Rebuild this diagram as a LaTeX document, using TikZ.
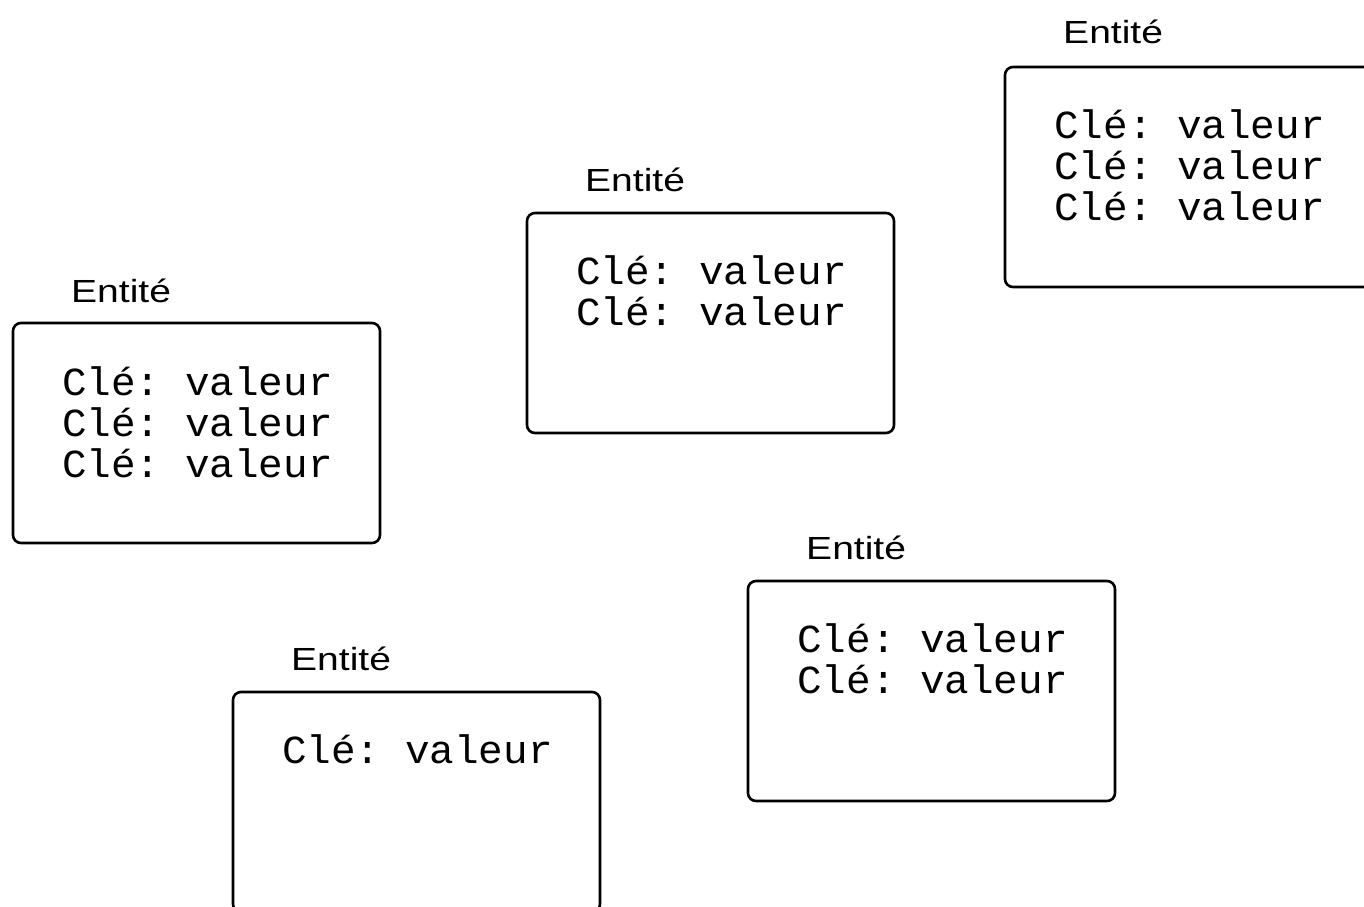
\documentclass[tikz,border=0pt]{standalone}
\usepackage{fontspec}
\usetikzlibrary{calc}
\newfontfamily\monof[FakeStretch=1.03]{Liberation Mono}
\newfontfamily\labelf[FakeStretch=1.22]{Liberation Sans}
\frenchspacing
\tikzset{
  entbox/.style={draw=black, line width=2.6pt, rounded corners=8pt, fill=white,
    minimum width=367pt, minimum height=220pt, inner sep=0pt, outer sep=0pt, anchor=north west},
  lbl/.style={inner sep=0pt, anchor=base west, font=\labelf\fontsize{32}{36}\selectfont, text=black},
  kv/.style={inner sep=0pt, anchor=base west, font=\monof\frenchspacing\fontsize{39.8}{41}\selectfont, text=black}
}
\begin{document}
\begin{tikzpicture}[x=1pt,y=-1pt]
\useasboundingbox (0,0) rectangle (1364,906);
\fill[white] (0,0) rectangle (1364,906);
\clip (0,0) rectangle (1364,906);
% box 1 (top right)
\node[entbox] (b1) at (1005,67) {};
\node[lbl] (l1) at ($(b1.north west)+(58,-24)$) {Entité};
\node[kv] (k1a) at ($(b1.north west)+(49,71)$) {Clé: valeur};
\node[kv] (k1b) at ($(b1.north west)+(49,112)$) {Clé: valeur};
\node[kv] (k1c) at ($(b1.north west)+(49,153)$) {Clé: valeur};
% box 2 (middle)
\node[entbox] (b2) at (527,213) {};
\node[lbl] (l2) at ($(b2.north west)+(58,-22)$) {Entité};
\node[kv] (k2a) at ($(b2.north west)+(49,71)$) {Clé: valeur};
\node[kv] (k2b) at ($(b2.north west)+(49,112)$) {Clé: valeur};
% box 3 (left)
\node[entbox] (b3) at (13,323) {};
\node[lbl] (l3) at ($(b3.north west)+(58,-21)$) {Entité};
\node[kv] (k3a) at ($(b3.north west)+(49,72)$) {Clé: valeur};
\node[kv] (k3b) at ($(b3.north west)+(49,113)$) {Clé: valeur};
\node[kv] (k3c) at ($(b3.north west)+(49,154)$) {Clé: valeur};
% box 4 (bottom right)
\node[entbox] (b4) at (748,581) {};
\node[lbl] (l4) at ($(b4.north west)+(58,-22)$) {Entité};
\node[kv] (k4a) at ($(b4.north west)+(49,71)$) {Clé: valeur};
\node[kv] (k4b) at ($(b4.north west)+(49,112)$) {Clé: valeur};
% box 5 (bottom)
\node[entbox] (b5) at (233,692) {};
\node[lbl] (l5) at ($(b5.north west)+(58,-22)$) {Entité};
\node[kv] (k5a) at ($(b5.north west)+(49,71)$) {Clé: valeur};
\end{tikzpicture}
\end{document}
